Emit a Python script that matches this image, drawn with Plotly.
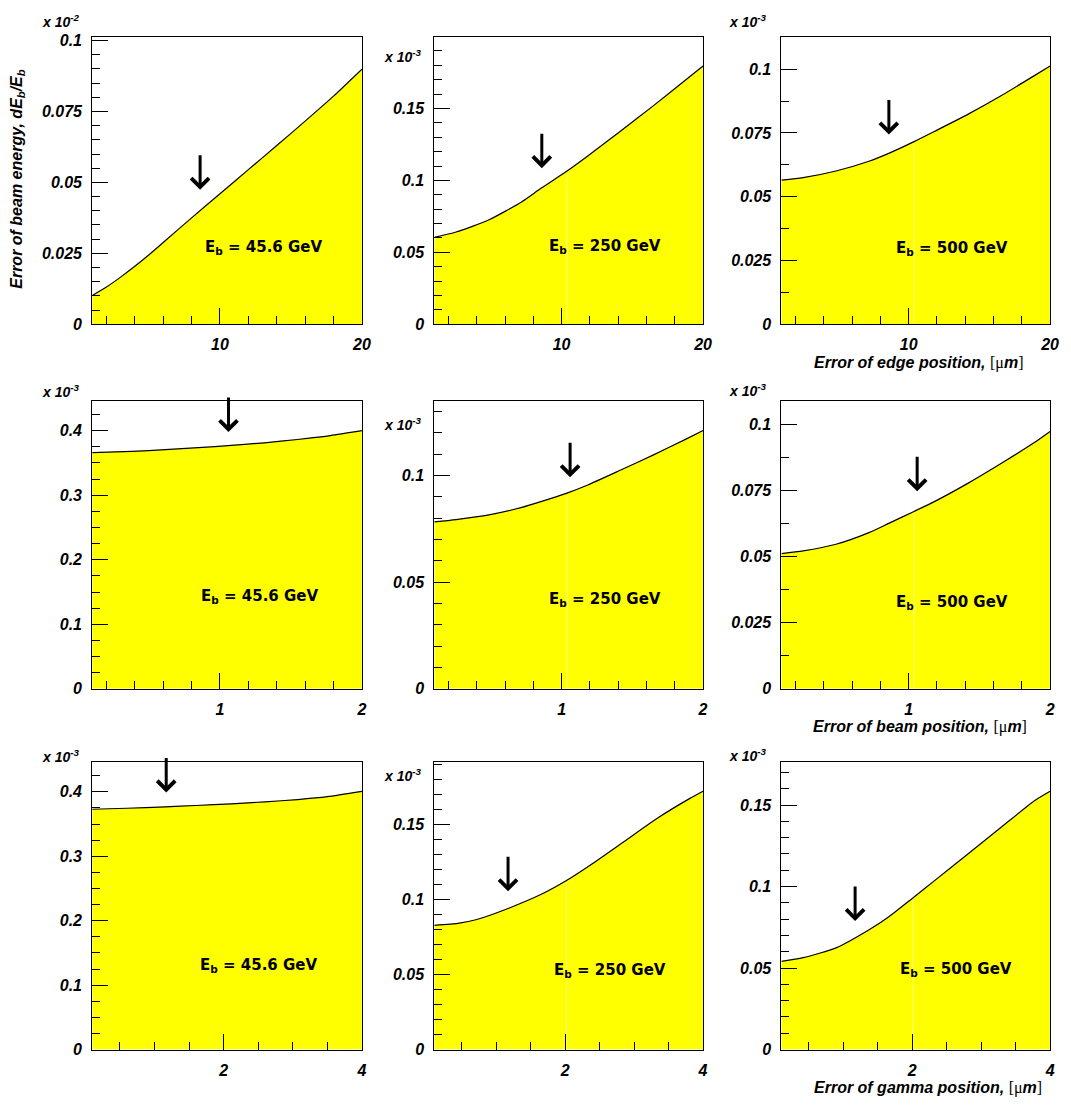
import plotly.graph_objects as go

W, H = 1071, 1108

# ---------------- data ----------------
# Row 1: error of edge position [um]
edge_x_456 = [1.0, 2.0, 3.0, 4.0, 5.0, 6.0, 8.0, 10.0, 12.0, 14.0, 16.0, 18.0, 20.0]
edge_y_456 = [0.0101, 0.0131, 0.0166, 0.0204, 0.0245, 0.0288, 0.0375, 0.0460, 0.0545, 0.0630, 0.0716, 0.0804, 0.0899]

edge_x_250 = [1.0, 2.54, 4.87, 7.19, 8.47, 10.38, 11.85, 14.18, 16.50, 18.83, 20.0]
edge_y_250 = [0.0604, 0.0641, 0.0726, 0.0852, 0.0940, 0.1065, 0.1170, 0.1344, 0.1520, 0.1703, 0.1795]

edge_x_500 = [1.0, 2.54, 4.86, 7.19, 8.59, 10.38, 11.85, 14.18, 16.50, 18.83, 20.0]
edge_y_500 = [0.0565, 0.0575, 0.0601, 0.0639, 0.0670, 0.0716, 0.0757, 0.0823, 0.0895, 0.0973, 0.1013]

# Row 2: error of beam position [um]
beam_x_456 = [0.1, 0.381, 0.615, 0.847, 1.080, 1.313, 1.546, 1.778, 2.0]
beam_y_456 = [0.366, 0.368, 0.3706, 0.3737, 0.3772, 0.3813, 0.3864, 0.3925, 0.400]

beam_x_250 = [0.1, 0.254, 0.486, 0.719, 0.859, 1.038, 1.185, 1.418, 1.650, 1.883, 2.0]
beam_y_250 = [0.0782, 0.0793, 0.0815, 0.0850, 0.0878, 0.0917, 0.0955, 0.1025, 0.1096, 0.1171, 0.1210]

beam_x_500 = [0.1, 0.254, 0.486, 0.719, 0.859, 1.038, 1.185, 1.418, 1.650, 1.883, 2.0]
beam_y_500 = [0.0511, 0.0521, 0.0546, 0.0590, 0.0625, 0.0670, 0.0708, 0.0776, 0.0850, 0.0928, 0.0972]

# Row 3: error of gamma position [um]
gamma_x_456 = [0.1, 0.6, 1.157, 1.6, 2.113, 2.6, 3.07, 3.5, 4.0]
gamma_y_456 = [0.373, 0.3745, 0.3768, 0.3788, 0.3814, 0.3845, 0.3880, 0.3925, 0.4008]

gamma_x_250 = [0.1, 0.464, 0.703, 1.18, 1.66, 2.018, 2.377, 2.855, 3.33, 3.81, 4.0]
gamma_y_250 = [0.0827, 0.0842, 0.0864, 0.0941, 0.1035, 0.1125, 0.1232, 0.1385, 0.1538, 0.1672, 0.1719]

gamma_x_500 = [0.1, 0.416, 0.894, 1.373, 1.66, 2.008, 2.328, 2.807, 3.285, 3.763, 4.0]
gamma_y_500 = [0.0541, 0.0564, 0.0624, 0.0735, 0.0815, 0.0930, 0.1038, 0.1200, 0.1362, 0.1523, 0.1584]

# arrows marking the working point on each curve (tip position)
edge_arrow_x = 8.6
edge_arrow_y = [0.0474, 0.1085, 0.0744]
beam_arrow_x = 1.06
beam_arrow_y = [0.398, 0.0991, 0.0746]
gamma_arrow_x = 1.17
gamma_arrow_y = [0.399, 0.1053, 0.0788]

# x position where the fill of the 250/500 GeV curves is split in two
seam_x = [10.38, 1.038, 2.01]

energy_labels = ["E<sub>b</sub> = 45.6 GeV", "E<sub>b</sub> = 250 GeV", "E<sub>b</sub> = 500 GeV"]

# axis ranges / ticks
x_ranges = [[1, 20], [0.1, 2], [0.1, 4]]
x_major = [[10, 20], [1, 2], [2, 4]]
x_major_text = [["10", "20"], ["1", "2"], ["2", "4"]]
x_minor_step = [2, 0.2, 0.5]

y_tops = [[0.1014, 0.2, 0.1128],
          [0.4456, 0.1347, 0.1086],
          [0.4463, 0.1914, 0.1764]]
ticks_025 = ([0, 0.025, 0.05, 0.075, 0.1], ["0", "0.025", "0.05", "0.075", "0.1"])
ticks_05 = ([0, 0.05, 0.1, 0.15], ["0", "0.05", "0.1", "0.15"])
ticks_1 = ([0, 0.1, 0.2, 0.3, 0.4], ["0", "0.1", "0.2", "0.3", "0.4"])
y_ticks = [[ticks_025, ticks_05, ticks_025],
           [ticks_1, ticks_05, ticks_025],
           [ticks_1, ticks_05, ticks_05]]
y_minor_step = [[0.005, 0.01, 0.0125],
                [0.025, 0.01, 0.0125],
                [0.025, 0.01, 0.01]]
multipliers = [["x 10<sup>-2</sup>", "x 10<sup>-3</sup>", "x 10<sup>-3</sup>"],
               ["x 10<sup>-3</sup>", "x 10<sup>-3</sup>", "x 10<sup>-3</sup>"],
               ["x 10<sup>-3</sup>", "x 10<sup>-3</sup>", "x 10<sup>-3</sup>"]]

curves = [[(edge_x_456, edge_y_456), (edge_x_250, edge_y_250), (edge_x_500, edge_y_500)],
          [(beam_x_456, beam_y_456), (beam_x_250, beam_y_250), (beam_x_500, beam_y_500)],
          [(gamma_x_456, gamma_y_456), (gamma_x_250, gamma_y_250), (gamma_x_500, gamma_y_500)]]
arrows = [(edge_arrow_x, edge_arrow_y), (beam_arrow_x, beam_arrow_y), (gamma_arrow_x, gamma_arrow_y)]

# ---------------- layout geometry (pixels) ----------------
col_px = [(93, 365), (438, 709), (788, 1059)]
row_px = [(33, 324), (402, 693), (767, 1058)]
# energy label centre inside each frame (fraction of the frame)
label_pos = [[(0.636, 0.268), (0.635, 0.271), (0.635, 0.262)],
             [(0.623, 0.320), (0.635, 0.310), (0.635, 0.300)],
             [(0.620, 0.293), (0.654, 0.275), (0.650, 0.280)]]
# multiplier right edge / centre y (pixels)
mult_pos = [[(83, 17), (428, 53), (776, 17)],
            [(83, 392), (428, 425), (776, 391)],
            [(83, 761), (428, 780), (776, 760)]]

FONT = "Liberation Sans"
tick_font = dict(family=FONT, size=16, color="black", weight="bold", style="italic")

fig = go.Figure()
layout = dict(width=W, height=H, margin=dict(l=0, r=0, t=0, b=0),
              paper_bgcolor="white", plot_bgcolor="white", showlegend=False)
annotations = []

for r in range(3):
    for c in range(3):
        k = r * 3 + c + 1
        sfx = "" if k == 1 else str(k)
        xn, yn = f"x{sfx}", f"y{sfx}"
        xs, ys = curves[r][c]
        fig.add_trace(go.Scatter(
            x=xs, y=ys, mode="lines", fill="tozeroy", fillcolor="#ffff00",
            line=dict(color="black", width=1.2, shape="spline", smoothing=0.6),
            xaxis=xn, yaxis=yn, hoverinfo="skip"))

        if c > 0:
            # faint seam between the two fill segments
            i = min(range(len(xs)), key=lambda j: abs(xs[j] - seam_x[r]))
            fig.add_trace(go.Scatter(
                x=[xs[i], xs[i]], y=[0, ys[i] * 0.985], mode="lines",
                line=dict(color="rgba(255,255,255,0.5)", width=1),
                xaxis=xn, yaxis=yn, hoverinfo="skip"))

        x0, x1 = col_px[c]
        y0, y1 = row_px[r]
        tv, tt = y_ticks[r][c]
        axis_common = dict(showline=True, linecolor="black", linewidth=1, mirror=True,
                           ticks="inside", tickwidth=1, tickcolor="black",
                           showgrid=False, zeroline=False, tickfont=tick_font,
                           tickmode="array", layer="above traces")
        layout[f"xaxis{sfx}"] = dict(
            axis_common, domain=[x0 / W, x1 / W], anchor=yn,
            range=x_ranges[r], tickvals=x_major[r], ticktext=x_major_text[r],
            ticklen=16, ticklabelstandoff=6,
            minor=dict(ticks="inside", ticklen=8, tickcolor="black", tickwidth=1,
                       tick0=0, dtick=x_minor_step[r], showgrid=False))
        layout[f"yaxis{sfx}"] = dict(
            axis_common, domain=[1 - y1 / H, 1 - y0 / H], anchor=xn,
            range=[0, y_tops[r][c]], tickvals=tv, ticktext=tt,
            ticklen=16, ticklabelstandoff=6,
            minor=dict(ticks="inside", ticklen=8, tickcolor="black", tickwidth=1,
                       tick0=0, dtick=y_minor_step[r][c], showgrid=False))

        lx, ly = label_pos[r][c]
        annotations.append(dict(
            text=energy_labels[c], xref=f"{xn} domain", yref=f"{yn} domain",
            x=lx, y=ly, xanchor="center", yanchor="middle", showarrow=False,
            font=dict(family="DejaVu Sans", size=15, color="black", weight="bold")))

        ax_x, ax_ys = arrows[r]
        annotations.append(dict(
            text="", xref=xn, yref=yn, x=ax_x, y=ax_ys[c],
            ax=0, ay=-36, showarrow=True, arrowhead=4, arrowsize=1.15,
            arrowwidth=3, arrowcolor="black", standoff=0))

        mx, my = mult_pos[r][c]
        annotations.append(dict(
            text=multipliers[r][c], xref="paper", yref="paper",
            x=mx / W, y=1 - my / H, xanchor="right", yanchor="middle", showarrow=False,
            font=dict(family=FONT, size=14, color="black", weight="bold", style="italic")))

# axis titles
um = ("<span style='font-family:Liberation Serif'>[\u03bc</span>"
      "<b><i>m</i></b><span style='font-family:Liberation Serif'>]</span>")
x_titles = [("<b><i>Error of edge position,</i></b> " + um, 1034, 363),
            ("<b><i>Error of beam position,</i></b> " + um, 1038, 732),
            ("<b><i>Error of gamma position,</i></b> " + um, 1053, 1097)]
for txt, xr, yc in x_titles:
    annotations.append(dict(
        text=txt, xref="paper", yref="paper", x=xr / W, y=1 - yc / H,
        xanchor="right", yanchor="middle", showarrow=False,
        font=dict(family=FONT, size=16, color="black")))

annotations.append(dict(
    text="<b><i>Error of beam energy, dE<sub>b</sub>/E<sub>b</sub></i></b>",
    xref="paper", yref="paper", x=18 / W, y=1 - 177 / H, textangle=-90,
    xanchor="center", yanchor="middle", showarrow=False,
    font=dict(family=FONT, size=16, color="black")))

layout["annotations"] = annotations
fig.update_layout(**layout)
fig.write_html("out.html")
